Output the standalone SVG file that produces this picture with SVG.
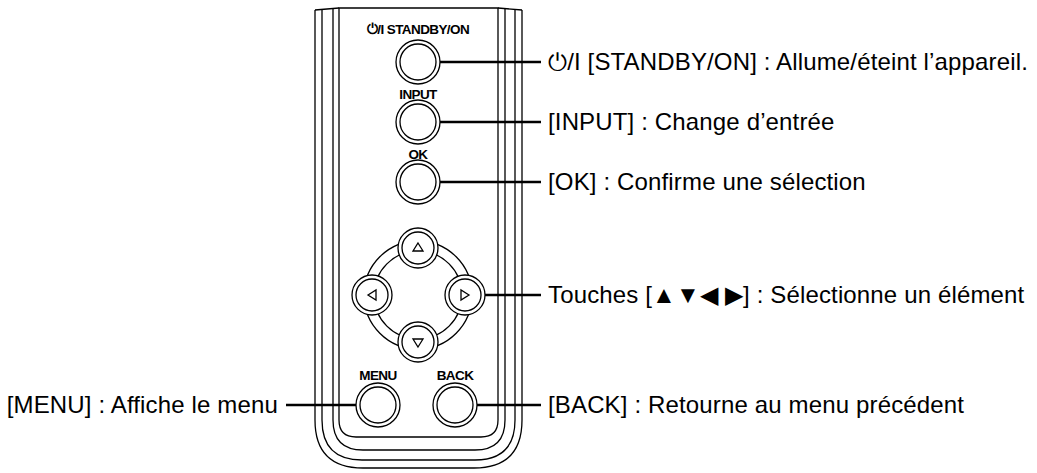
<svg xmlns="http://www.w3.org/2000/svg" width="1037" height="473" viewBox="0 0 1037 473">
<style>
.l{fill:none;stroke:#000;stroke-width:1.3}
.b{fill:#fff;stroke:#000;stroke-width:1.3}
.c{stroke:#000;stroke-width:2.5;fill:none}
.t{font-family:"Liberation Sans",Arial,sans-serif;font-size:24px;fill:#000;letter-spacing:0.15px}
.s{font-family:"Liberation Sans",Arial,sans-serif;font-size:13.5px;font-weight:bold;fill:#000;text-anchor:middle;letter-spacing:-0.6px}
</style>
<rect width="1037" height="473" fill="#fff"/>
<g id="remote">
<path class="l" d="M315,10 L315,420 Q315,468 363,468 L474,468 Q522,468 522,420 L522,10"/>
<path class="l" d="M322,10 L322,420 Q322,460 362,460 L475,460 Q515,460 515,420 L515,10"/>
<path class="l" d="M333,8 L333,420 Q333,450 363,450 L475,450 Q505,450 505,420 L505,8"/>
<path class="l" d="M339,8 L339,420 Q339,437 356,437 L481,437 Q498,437 498,420 L498,8 Z"/>
<line class="l" x1="315" y1="10" x2="339" y2="8"/><line class="l" x1="498" y1="8" x2="522" y2="10"/>
</g>
<g id="standby"><text class="s" x="418" y="34">⏻/I STANDBY/ON</text><circle class="b" cx="418" cy="62" r="22"/><circle class="l" cx="418" cy="62" r="18"/></g>
<g id="input"><text class="s" x="418" y="99">INPUT</text><circle class="b" cx="418" cy="122" r="22"/><circle class="l" cx="418" cy="122" r="18"/></g>
<g id="ok"><text class="s" x="418" y="159">OK</text><circle class="b" cx="418" cy="182" r="22"/><circle class="l" cx="418" cy="182" r="18"/></g>
<g id="dpad">
<circle class="l" cx="418" cy="295" r="54"/><circle class="l" cx="418" cy="295" r="44"/>
<g class="b"><circle cx="418" cy="248" r="20"/><circle cx="372" cy="295" r="20"/><circle cx="465" cy="295" r="20"/><circle cx="418" cy="342" r="20"/></g>
<g class="l"><circle cx="418" cy="248" r="16"/><circle cx="372" cy="295" r="16"/><circle cx="465" cy="295" r="16"/><circle cx="418" cy="342" r="16"/>
<path d="M418,243 L423,251 L413,251 Z"/><path d="M368,295 L376,290 L376,300 Z"/><path d="M469,295 L461,290 L461,300 Z"/><path d="M418,347 L423,339 L413,339 Z"/></g>
</g>
<g id="menu"><text class="s" x="378" y="380">MENU</text><circle class="b" cx="378" cy="405" r="22"/><circle class="l" cx="378" cy="405" r="18"/></g>
<g id="back"><text class="s" x="455" y="380">BACK</text><circle class="b" cx="455" cy="405" r="22"/><circle class="l" cx="455" cy="405" r="18"/></g>
<g id="connectors">
<line class="c" x1="440" y1="62" x2="541" y2="62"/>
<line class="c" x1="440" y1="122" x2="541" y2="122"/>
<line class="c" x1="440" y1="182" x2="541" y2="182"/>
<line class="c" x1="485" y1="295" x2="541" y2="295"/>
<line class="c" x1="477" y1="405" x2="541" y2="405"/>
<line class="c" x1="286" y1="405" x2="356" y2="405"/>
</g>
<g id="labels">
<text class="t" x="548" y="70">⏻/I [STANDBY/ON] : Allume/éteint l’appareil.</text>
<text class="t" x="548" y="130">[INPUT] : Change d’entrée</text>
<text class="t" x="548" y="190">[OK] : Confirme une sélection</text>
<text class="t" x="548" y="303">Touches [▲▼◀ ▶] : Sélectionne un élément</text>
<text class="t" x="548" y="413">[BACK] : Retourne au menu précédent</text>
<text class="t" x="278" y="413" text-anchor="end">[MENU] : Affiche le menu</text>
</g>
</svg>
